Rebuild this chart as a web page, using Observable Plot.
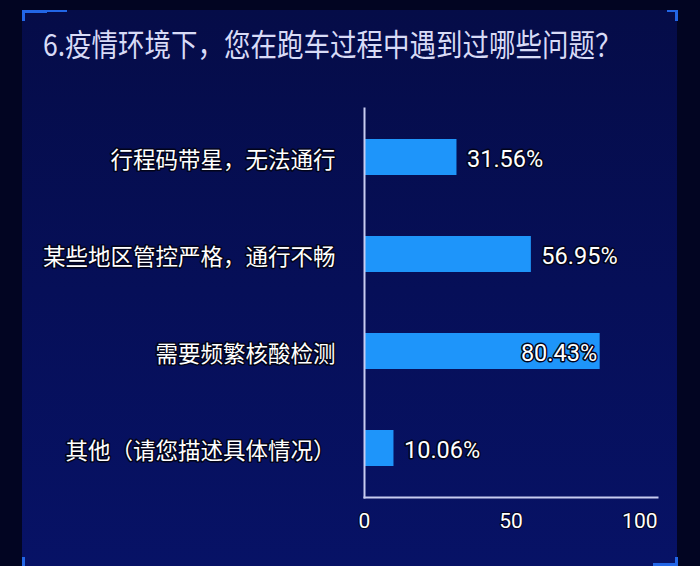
<!DOCTYPE html>
<html>
<head>
<meta charset="utf-8">
<script src="https://cdn.jsdelivr.net/npm/d3@7"></script>
<script src="https://cdn.jsdelivr.net/npm/@observablehq/plot@0.6"></script>
<style>
  html, body { margin: 0; padding: 0; }
  body { width: 700px; height: 566px; background: #020522; position: relative; overflow: hidden; }
  #panel { position: absolute; left: 22px; top: 10px; width: 655px; height: 560px;
           background: linear-gradient(180deg, #050c48 0%, #060f58 50%, #071266 100%); }
  .br { position: absolute; background: #2266e6; }
  #title { position: absolute; left: 43px; top: 28px; font-family: "Noto Sans CJK SC", sans-serif;
           font-size: 26.5px; line-height: 1; color: #d8dbf6; white-space: nowrap;
           transform: scaleY(1.15); transform-origin: 0 0; }
  #chart { position: absolute; left: 0; top: 0; }
</style>
</head>
<body>
<div id="panel"></div>
<div class="br" style="left:22px;top:10px;width:45px;height:2px;"></div>
<div class="br" style="left:22px;top:10px;width:25px;height:3px;"></div>
<div class="br" style="left:22px;top:10px;width:3px;height:11px;"></div>
<div class="br" style="left:667px;top:10px;width:11px;height:2px;"></div>
<div class="br" style="left:675px;top:10px;width:3px;height:11px;"></div>
<div class="br" style="left:653px;top:563px;width:24px;height:3px;"></div>
<div class="br" style="left:675px;top:557px;width:3px;height:9px;"></div>
<div class="br" style="left:22px;top:557px;width:3px;height:9px;"></div>
<div id="title">6.疫情环境下，您在跑车过程中遇到过哪些问题？</div>
<div id="chart"></div>
<script>
const categories = ["行程码带星，无法通行", "某些地区管控严格，通行不畅", "需要频繁核酸检测", "其他（请您描述具体情况）"];
const values = [31.56, 56.95, 80.43, 10.06];
const xTicks = [0, 50, 100];

const data = categories.map((c, i) => ({cat: c, value: values[i]}));
const inside = data.filter(d => d.value > 70);
const outside = data.filter(d => d.value <= 70);
const fmt = d => d.value.toFixed(2) + "%";

const numFont = "Roboto, sans-serif";
const cjkFont = "'Noto Sans CJK SC', sans-serif";

const chart = Plot.plot({
  width: 700,
  height: 566,
  marginLeft: 364,
  marginRight: 43,
  marginTop: 108,
  marginBottom: 69,
  style: {background: "transparent", overflow: "visible"},
  x: {domain: [0, 100], axis: null},
  y: {domain: categories, paddingInner: 0.63, paddingOuter: 0.315, axis: null},
  marks: [
    Plot.barX(data, {x: "value", y: "cat", fill: "#1e95fa"}),
    Plot.frame({anchor: "left", stroke: "#c8ccf0", strokeWidth: 2}),
    Plot.frame({anchor: "bottom", stroke: "#c8ccf0", strokeWidth: 2}),
    Plot.text(data, {x: 0, y: "cat", text: "cat", dx: -29, dy: 3, textAnchor: "end",
      fill: "#ffffff", stroke: "#02041a", strokeWidth: 3, fontSize: 22.5, fontWeight: 400, fontFamily: cjkFont}),
    Plot.text(outside, {x: "value", y: "cat", text: fmt, dx: 10, dy: 2, textAnchor: "start",
      fill: "#ffffff", stroke: "#02041a", strokeWidth: 3, fontSize: 23.5, fontWeight: 400, fontFamily: numFont}),
    Plot.text(inside, {x: "value", y: "cat", text: fmt, dx: -3, dy: 2, textAnchor: "end",
      fill: "#ffffff", stroke: "#02041a", strokeWidth: 3, fontSize: 23.5, fontWeight: 400, fontFamily: numFont}),
    Plot.text(xTicks.filter(d => d < 100), {x: d => d, frameAnchor: "bottom", dy: 30, text: d => String(d),
      textAnchor: "middle", fill: "#ffffff", stroke: "#02041a", strokeWidth: 2, fontSize: 21, fontFamily: numFont}),
    Plot.text(xTicks.filter(d => d >= 100), {x: d => d, frameAnchor: "bottom", dy: 30, text: d => String(d),
      textAnchor: "end", fill: "#ffffff", stroke: "#02041a", strokeWidth: 2, fontSize: 21, fontFamily: numFont})
  ]
});
document.getElementById("chart").appendChild(chart);
</script>
</body>
</html>
